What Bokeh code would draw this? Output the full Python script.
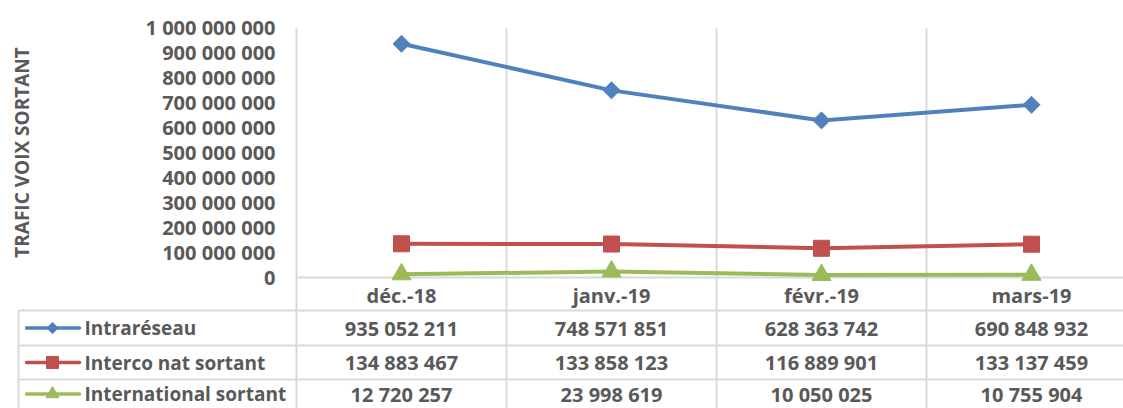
import math
from bokeh.plotting import figure
from bokeh.models import Range1d, LinearAxis, FixedTicker
from bokeh.core.properties import value
from bokeh.embed import file_html
from bokeh.resources import INLINE

# ---------------- data ----------------
categories = ["déc.-18", "janv.-19", "févr.-19", "mars-19"]
intrareseau = [935052211, 748571851, 628363742, 690848932]
interco_nat_sortant = [134883467, 133858123, 116889901, 133137459]
international_sortant = [12720257, 23998619, 10050025, 10755904]
series_names = ["Intraréseau", "Interco nat sortant", "International sortant"]
y_tick_values = [0, 100000000, 200000000, 300000000, 400000000, 500000000,
                 600000000, 700000000, 800000000, 900000000, 1000000000]
y_title = "TRAFIC VOIX SORTANT"

series = [intrareseau, interco_nat_sortant, international_sortant]
colors = ["#4F81BD", "#C0504D", "#9BBB59"]
markers = [("square", 12, math.pi / 4), ("square", 16, 0.0), ("triangle", 19, 0.0)]
legend_markers = [("square", 8, math.pi / 4), ("square", 12, 0.0), ("triangle", 13, 0.0)]

def fmt(v):
    return f"{v:,}".replace(",", " ")

# ---------------- layout (pixel geometry of the picture) ----------------
W, H = 1123, 408
X0_IMG, CAT_W = 296, 210          # plot-area left edge, width of a category
Y0_IMG, PX_PER_VAL = 277, 250 / 1e9

def xd(img_x):
    return (img_x - X0_IMG) / CAT_W

def yd(img_y):
    return (Y0_IMG - img_y) / PX_PER_VAL

FONT = value("Open Sans")
GREY = "#595959"
GRID = "#D9D9D9"

p = figure(width=W, height=H, output_backend="svg", toolbar_location=None,
           x_range=Range1d(xd(0), xd(W)),
           y_range=Range1d(yd(H), yd(0)),
           x_axis_type=None, y_axis_type=None, min_border=0)
p.outline_line_color = None
p.background_fill_color = "white"
p.border_fill_color = "white"

# y axis inside the frame at x=0
yax = LinearAxis(fixed_location=0, ticker=FixedTicker(ticks=y_tick_values))
yax.major_label_overrides = {v: fmt(v) for v in y_tick_values}
yax.axis_line_color = None
yax.major_tick_line_color = None
yax.minor_tick_line_color = None
yax.major_label_standoff = 15
yax.major_label_text_font = "Open Sans"
yax.major_label_text_font_style = "bold"
yax.major_label_text_font_size = "20px"
yax.major_label_text_color = GREY
p.add_layout(yax, "left")

# category axis inside the frame at y=0
cat_x = [i + 0.5 for i in range(len(categories))]
xax = LinearAxis(fixed_location=0, ticker=FixedTicker(ticks=cat_x))
xax.major_label_overrides = {x: c for x, c in zip(cat_x, categories)}
xax.axis_line_color = None
xax.major_tick_line_color = None
xax.minor_tick_line_color = None
xax.major_label_standoff = -2
xax.major_label_text_font = "Open Sans"
xax.major_label_text_font_style = "bold"
xax.major_label_text_font_size = "20px"
xax.major_label_text_color = GREY
p.add_layout(xax, "below")

# grid / table lines
bottom = yd(H + 10)
right = xd(W + 20)
bounds = list(range(len(categories) + 1))
p.segment(x0=bounds, y0=[yd(28)] * len(bounds), x1=bounds, y1=[bottom] * len(bounds),
          line_color=GRID, line_width=2)
p.segment(x0=[xd(18)], y0=[yd(310)], x1=[xd(18)], y1=[bottom], line_color=GRID, line_width=2)
row_lines = [Y0_IMG, 310, 345, 379]
p.segment(x0=[0] + [xd(18)] * 3, y0=[yd(r) for r in row_lines],
          x1=[right] * 4, y1=[yd(r) for r in row_lines], line_color=GRID, line_width=2)

# series lines + markers
for vals, col, (mk, sz, ang) in zip(series, colors, markers):
    p.line(cat_x, vals, line_color=col, line_width=4, line_join="round")
    p.scatter(cat_x, vals, marker=mk, size=sz, angle=ang, fill_color=col, line_color=col)

# data table
row_centers = [327.5, 362, 393.5]
for k, (name, vals, col, (mk, sz, ang)) in enumerate(zip(series_names, series, colors, legend_markers)):
    yc = yd(row_centers[k])
    p.line([xd(26), xd(79)], [yc, yc], line_color=col, line_width=3.5, line_cap="round")
    p.scatter([xd(52)], [yc], marker=mk, size=sz, angle=ang, fill_color=col, line_color=col)
    p.text([xd(84)], [yc], text=[name], text_font=FONT, text_font_style="bold",
           text_font_size="19px", text_color=GREY, text_align="left", text_baseline="middle")
    p.text(cat_x, [yc] * len(cat_x), text=[fmt(v) for v in vals], text_font=FONT,
           text_font_style="bold", text_font_size="20px", text_color=GREY,
           text_align="center", text_baseline="middle")

# y axis title
p.text([xd(21)], [yd(152)], text=[y_title], angle=math.pi / 2, text_font=FONT,
       text_font_style="bold", text_font_size="19px", text_color=GREY,
       text_align="center", text_baseline="middle")

open("out.html", "w").write(file_html(p, INLINE))
